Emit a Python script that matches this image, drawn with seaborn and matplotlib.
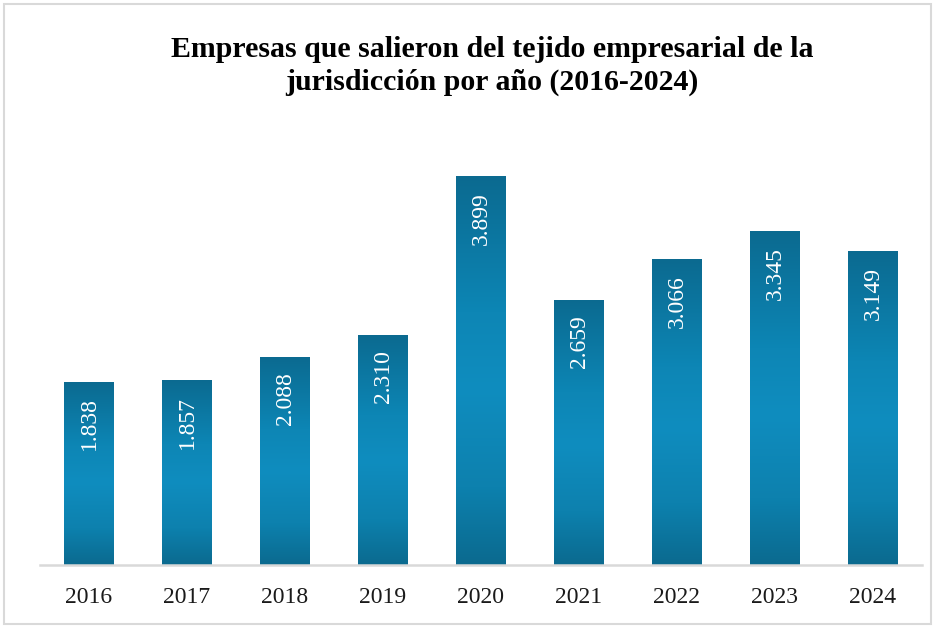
#Bar chart: empresas que salieron del tejido empresarial (2016-2024)

import numpy as np
import pandas as pd
import matplotlib
matplotlib.use("Agg")
import matplotlib.pyplot as plt
from matplotlib.colors import LinearSegmentedColormap
from matplotlib.patches import Rectangle
import seaborn as sns

years = ["2016", "2017", "2018", "2019", "2020", "2021", "2022", "2023", "2024"]
empresas = [1838, 1857, 2088, 2310, 3899, 2659, 3066, 3345, 3149]
value_labels = ["1.838", "1.857", "2.088", "2.310", "3.899", "2.659", "3.066", "3.345", "3.149"]

title = "Empresas que salieron del tejido empresarial de la\njurisdicción por año (2016-2024)"

data = pd.DataFrame({"Año": years, "Empresas": empresas})

sns.set_theme(style="white")
plt.rcParams['font.family'] = ['Liberation Serif', 'DejaVu Serif']

fig = plt.figure(figsize=(9.34, 6.28), dpi=100)
ax = fig.add_axes([40 / 934, 63 / 628, 882 / 934, 449 / 628])

sns.barplot(data=data, x="Año", y="Empresas", color="#0f84b3", width=0.51,
            saturation=1, ax=ax)
ax.set_ylim(0, 4500)

#Gradient fill: dark at top and bottom, lighter in the middle
cmap = LinearSegmentedColormap.from_list(
    "bar", [(0.0, "#0b6a90"), (0.35, "#0d86b5"), (0.55, "#0f8dbf"),
            (0.8, "#0d81ae"), (1.0, "#0b6a8f")])
grad = np.linspace(0, 1, 256).reshape(-1, 1)
for patch in ax.patches:
    x0, y0 = patch.get_x(), patch.get_y()
    w, h = patch.get_width(), patch.get_height()
    im = ax.imshow(grad, cmap=cmap, aspect="auto", origin="upper",
                   extent=(x0, x0 + w, y0, y0 + h), zorder=patch.get_zorder() + 0.1)
    im.set_clip_path(patch)
    patch.set_edgecolor("none")
ax.set_xlim(-0.5, len(years) - 0.5)
ax.set_ylim(0, 4500)

#Value labels inside bars, rotated
for i, (v, lab) in enumerate(zip(empresas, value_labels)):
    ax.text(i, v - 160, lab, rotation=90, ha="center", va="top",
            color="white", fontsize=17, zorder=5)

for side in ["left", "right", "top"]:
    ax.spines[side].set_visible(False)
ax.spines["bottom"].set_color("#d9d9d9")
ax.spines["bottom"].set_linewidth(1.8)
ax.set_yticks([])
ax.set_xlabel("")
ax.set_ylabel("")
ax.tick_params(axis="x", length=0, pad=16, labelsize=17, labelcolor="#1a1a1a")

fig.text(0.527, 0.942, title, ha="center", va="top", fontsize=21.5,
         fontweight="bold", color="black", linespacing=1.25)

#Light border around the whole chart
fig.patches.append(Rectangle((4 / 934, 4 / 628), 927 / 934, 620 / 628,
                             transform=fig.transFigure, fill=False,
                             edgecolor="#d9d9d9", linewidth=1.5))

fig.savefig("out.png", dpi=100)
